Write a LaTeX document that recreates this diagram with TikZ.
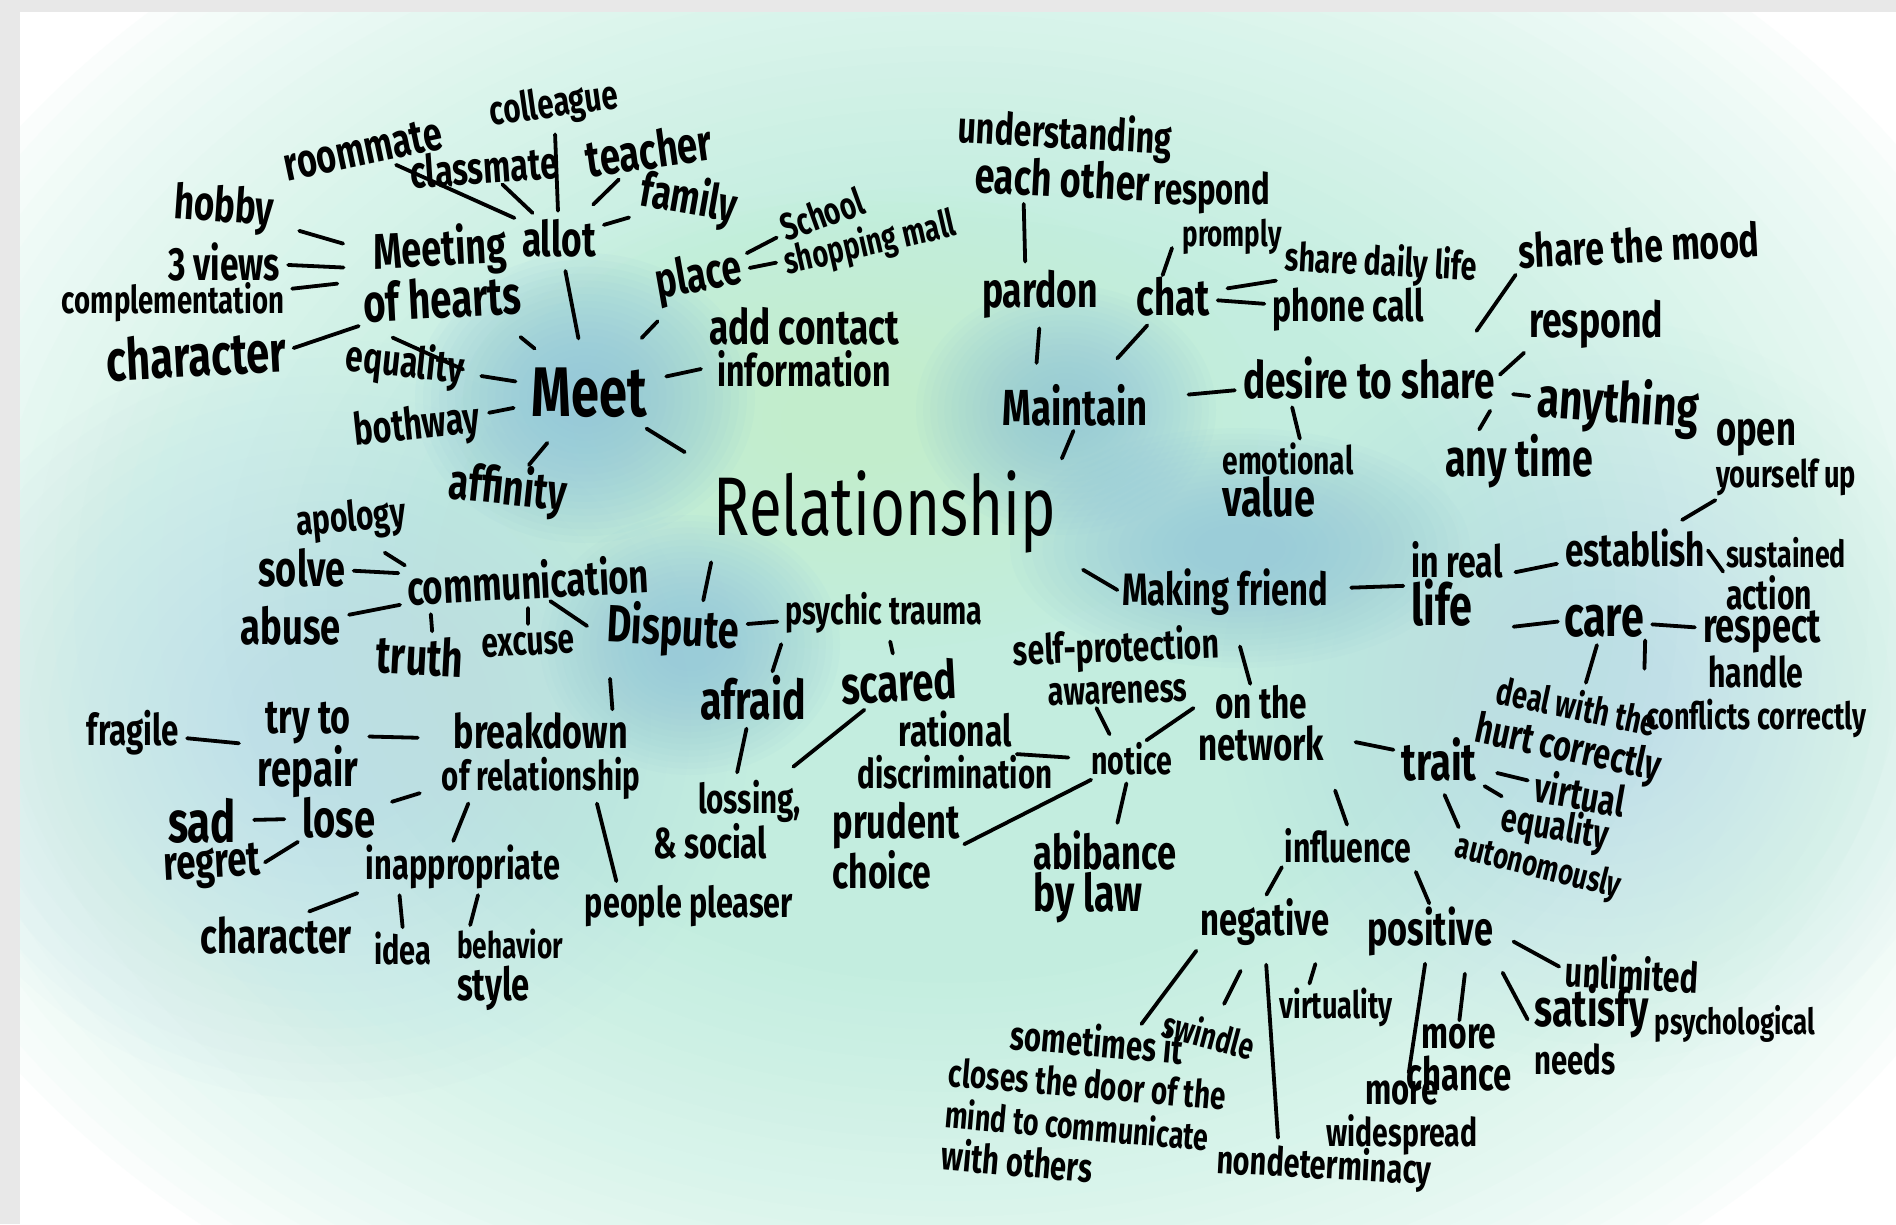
\documentclass[tikz,border=0pt]{standalone}
\usepackage{graphicx}
\usepackage{fontspec}
\setmainfont[FakeStretch=0.72]{Fira Sans}
\definecolor{framec}{HTML}{E8E8E8}
\definecolor{mintc}{HTML}{C3EDDF}
\definecolor{greenc}{HTML}{C2F5CC}
\definecolor{bluec}{HTML}{8EC3D8}
\definecolor{tealc}{HTML}{BCDFE8}
\newcommand{\fw}[2]{\resizebox{#1pt}{!}{#2}}
\newcommand{\myblob}[6]{%
  \foreach \i in {1,...,18}{%
    \pgfmathsetmacro\s{1-(\i-1)*0.85/18}%
    \fill[#1, fill opacity=#6] (#2,#3) ellipse ({#4*\s} and {#5*\s});
  }}
\tikzset{
  lb/.style={inner sep=1pt, align=center, text=black, font=\fontsize{36}{42}\selectfont\bfseries},
  c/.style={line width=3.8pt, line cap=round, black, shorten >=7pt, shorten <=7pt},
  sh/.style 2 args={shorten <=#1pt, shorten >=#2pt},
}
\begin{document}
\begin{tikzpicture}[x=1pt,y=-1pt]
\useasboundingbox (0,0) rectangle (1896,1224);
% background
\fill[framec] (0,0) rectangle (1896,1224);
\fill[white] (20,12) rectangle (1896,1224);
\begin{scope}
\clip (20,12) rectangle (1896,1224);
\foreach \i in {0,...,30}{
  \pgfmathsetmacro\s{1-\i*0.55/30}
  \pgfmathtruncatemacro\p{100*(\i/30)^0.7}
  \fill[mintc!\p!white] (950,600) ellipse ({1150*\s} and {850*\s});
}
\myblob{tealc}{330}{720}{420}{380}{0.05}
\myblob{tealc}{1600}{700}{380}{380}{0.04}
\myblob{greenc}{860}{420}{400}{230}{0.06}
\myblob{bluec}{585}{398}{170}{145}{0.07}
\myblob{bluec}{1066}{410}{150}{125}{0.06}
\myblob{bluec}{690}{645}{150}{130}{0.06}
\myblob{bluec}{1240}{548}{230}{120}{0.06}
\end{scope}

% ---------- nodes ----------
\node[lb] (rel) at (885,512) {\fw{342}{\mdseries Relationship}};
% Meet
\node[lb] (meet) at (589,393) {\fw{115}{Meet}};
\node[lb,rotate=3] (moh) at (441,272) {\fw{133}{Meeting}\\\fw{158}{of hearts}};
\node[lb] (allot) at (559,238) {\fw{74}{allot}};
\node[lb,rotate=12] (room) at (363,150) {\fw{160}{roommate}};
\node[lb,rotate=8] (coll) at (554,106) {\fw{129}{colleague}};
\node[lb,rotate=4] (class) at (484,167) {\fw{148}{classmate}};
\node[lb,rotate=8] (teach) at (649,150) {\fw{127}{teacher}};
\node[lb,rotate=-10] (fam) at (689,200) {\fw{97}{family}};
\node[lb,rotate=-4] (hobby) at (224,209) {\fw{100}{hobby}};
\node[lb] (views) at (224,262) {\fw{112}{3 views}};
\node[lb] (comp) at (173,302) {\fw{222}{complementation}};
\node[lb,rotate=3] (char) at (196,355) {\fw{180}{character}};
\node[lb,rotate=-6] (eq) at (405,364) {\fw{118}{equality}};
\node[lb,rotate=6] (both) at (417,427) {\fw{126}{bothway}};
\node[lb,rotate=-6] (aff) at (508,490) {\fw{118}{affinity}};
\node[lb,rotate=10] (place) at (699,278) {\fw{87}{place}};
\node[lb,rotate=20] (school) at (822,214) {\fw{85}{School}};
\node[lb,rotate=13] (shop) at (870,244) {\fw{175}{shopping mall}};
\node[lb] (add) at (804,347) {\fw{190}{add contact}\\\fw{173}{information}};
% Maintain
\node[lb,rotate=-3] (under) at (1064,155) {\fw{214}{understanding}\\\fw{175}{each other}};
\node[lb] (resp) at (1212,213) {\fw{117}{respond}\\\hspace*{40pt}\fw{99}{promply}};
\node[lb,rotate=-3] (daily) at (1381,264) {\fw{192}{share daily life}};
\node[lb] (pardon) at (1040,294) {\fw{116}{pardon}};
\node[lb] (chat) at (1173,297) {\fw{73}{chat}};
\node[lb] (phone) at (1348,310) {\fw{151}{phone call}};
\node[lb,rotate=3] (mood) at (1639,245) {\fw{241}{share the mood}};
\node[lb] (resp2) at (1596,324) {\fw{134}{respond}};
\node[lb] (maint) at (1075,405) {\fw{145}{Maintain}};
\node[lb] (desire) at (1369,378) {\fw{252}{desire to share}};
\node[lb,rotate=-4] (anyth) at (1618,406) {\fw{162}{anything}};
\node[lb,align=left] (emo) at (1288,480) {\fw{131}{emotional}\\\fw{93}{value}};
\node[lb] (anyt) at (1519,461) {\fw{148}{any time}};
\node[lb,align=left] (open) at (1786,458) {\fw{80}{open}\\\fw{140}{yourself up}};
% Making friend
\node[lb] (estab) at (1635,548) {\fw{140}{establish}};
\node[lb,align=left] (sust) at (1786,574) {\fw{120}{sustained}\\\fw{86}{action}};
\node[lb,align=left] (irl) at (1457,584) {\fw{91}{in real}\\\fw{61}{life}};
\node[lb] (mf) at (1225,592) {\fw{206}{Making friend}};
\node[lb] (care) at (1604,621) {\fw{80}{care}};
\node[lb] (respect) at (1762,632) {\fw{118}{respect}};
\node[lb] (handle) at (1756,697) {\fw{95}{handle}\\\fw{220}{conflicts correctly}};
\node[lb,rotate=-12] (deal) at (1572,730) {\fw{162}{deal with the}\\\fw{188}{hurt correctly}};
\node[lb,rotate=2] (self) at (1117,666) {\fw{206}{self-protection}\\\fw{139}{awareness}};
\node[lb] (notice) at (1132,759) {\fw{81}{notice}};
\node[lb] (net) at (1261,723) {\fw{92}{on the}\\\fw{126}{network}};
\node[lb] (rat) at (955,750) {\fw{113}{rational}\\\fw{195}{discrimination}};
\node[lb,align=left] (prud) at (896,846) {\fw{127}{prudent}\\\fw{99}{choice}};
\node[lb,align=left] (abib) at (1105,877) {\fw{143}{abibance}\\\fw{109}{by law}};
\node[lb] (trait) at (1439,759) {\fw{75}{trait}};
\node[lb,rotate=-10] (virt) at (1580,793) {\fw{91}{virtual}};
\node[lb,rotate=-10] (eq2) at (1555,828) {\fw{108}{equality}};
\node[lb,rotate=-14] (auto) at (1538,868) {\fw{169}{autonomously}};
\node[lb] (infl) at (1348,846) {\fw{127}{influence}};
\node[lb] (neg) at (1265,922) {\fw{129}{negative}};
\node[lb] (pos) at (1430,931) {\fw{126}{positive}};
\node[lb,rotate=-3] (unlim) at (1632,973) {\fw{133}{unlimited}};
\node[lb,align=left] (satis) at (1675,1030) {\fw{114}{satisfy} \raisebox{-8pt}{\fw{161}{psychological}}\\\fw{81}{needs}};
\node[lb] (virty) at (1336,1007) {\fw{113}{virtuality}};
\node[lb,rotate=-15] (swin) at (1209,1034) {\fw{93}{swindle}};
\node[lb] (chance) at (1459,1058) {\fw{75}{more}\\\fw{105}{chance}};
\node[lb] (wide) at (1402,1118) {\fw{73}{more}\\\fw{151}{widespread}};
\node[lb,rotate=-3] (nond) at (1324,1167) {\fw{215}{nondeterminacy}};
\node[lb,align=left,rotate=-5] (some) at (1086,1103) {\hspace*{58pt}\fw{173}{sometimes it}\\\fw{278}{closes the door of the}\\\fw{264}{mind to communicate}\\\fw{151}{with others}};
% Dispute
\node[lb,rotate=5] (apol) at (351,520) {\fw{110}{apology}};
\node[lb] (solve) at (302,568) {\fw{87}{solve}};
\node[lb,rotate=3] (comm) at (528,580) {\fw{242}{communication}};
\node[lb] (abuse) at (291,626) {\fw{100}{abuse}};
\node[lb,rotate=-3] (truth) at (420,656) {\fw{87}{truth}};
\node[lb,rotate=3] (excuse) at (528,644) {\fw{93}{excuse}};
\node[lb,rotate=-3] (disp) at (673,630) {\fw{132}{Dispute}};
\node[lb] (psy) at (884,613) {\fw{197}{psychic trauma}};
\node[lb] (afraid) at (753,698) {\fw{106}{afraid}};
\node[lb,rotate=3] (scared) at (899,682) {\fw{116}{scared}};
\node[lb] (fragile) at (133,733) {\fw{92}{fragile}};
\node[lb] (try) at (308,750) {\fw{85}{try to}\\\fw{100}{repair}};
\node[lb] (break) at (541,756) {\fw{174}{breakdown}\\\fw{198}{of relationship}};
\node[lb] (sad) at (202,821) {\fw{68}{sad}};
\node[lb] (lose) at (339,818) {\fw{73}{lose}};
\node[lb,rotate=3] (regret) at (212,867) {\fw{97}{regret}};
\node[lb] (inap) at (463,867) {\fw{194}{inappropriate}};
\node[lb] (pp) at (689,906) {\fw{208}{people pleaser}};
\node[lb] (char2) at (276,935) {\fw{151}{character}};
\node[lb] (idea) at (403,949) {\fw{57}{idea}};
\node[lb,align=left] (beh) at (510,970) {\fw{106}{behavior}\\\fw{73}{style}};
\node[lb,align=left] (loss) at (727,820) {\hspace*{45pt}\fw{103}{lossing,}\\\fw{114}{\& social}};

% ---------- connectors ----------
\draw[c,sh={18}{33}] (meet) -- (rel.north west);
\draw[c,sh={29}{31}] (meet) -- (moh);
\draw[c,sh={29}{13}] (meet) -- (allot);
\draw[c,sh={40}{17}] (meet) -- (place);
\draw[c,sh={19}{7}] (meet) -- (add);
\draw[c,sh={15}{17}] (meet) -- (eq);
\draw[c,sh={17}{9}] (meet) -- (both);
\draw[c,sh={31}{0}] (meet) -- (aff);
\draw[c] (allot) -- (room);
\draw[c,sh={7}{0}] (allot) -- (class);
\draw[c] (allot) -- (coll);
\draw[c,sh={19}{7}] (allot) -- (teach);
\draw[c] (allot) -- (fam);
\draw[c,sh={17}{26}] (moh) -- (hobby);
\draw[c,sh={17}{7}] (moh) -- (views);
\draw[c,sh={24}{7}] (moh) -- (comp);
\draw[c,sh={5}{7}] (moh.south west) -- (char.east);
\draw[c,sh={32}{2}] (moh.south west) -- (eq.east);
\draw[c] (place) -- (school);
\draw[c] (place) -- (shop);
\draw[c,sh={12}{4}] (rel.north east) -- (maint.south);
\draw[c,sh={9}{20}] (pardon.south) -- (maint.151);
\draw[c,sh={7}{7}] (pardon.120) -- (under.229);
\draw[c,sh={33}{10}] (maint) -- (chat);
\draw[c,sh={1}{-8}] (chat.117) -- (resp.225);
\draw[c,sh={17}{7}] (chat) -- (daily);
\draw[c] (chat) -- (phone);
\draw[c,sh={40}{7}] (maint) -- (desire);
\draw[c,sh={30}{5}] (desire.14) -- (mood.south west);
\draw[c,sh={5}{5}] (desire.east) -- (resp2.south west);
\draw[c,sh={17}{7}] (desire) -- (anyth);
\draw[c,sh={12}{4}] (desire.-10) -- (anyt.146);
\draw[c,sh={7}{3}] (desire.196) -- (emo.72);
\draw[c,sh={30}{4}] (rel.south east) -- (mf.west);
\draw[c,sh={22}{7}] (mf) -- (irl);
\draw[c,sh={12}{7}] (irl) -- (estab);
\draw[c,sh={15}{5}] (estab) -- (open);
\draw[c,sh={3}{3}] (estab.east) -- (sust.west);
\draw[c,sh={10}{5}] (irl.south east) -- (care.west);
\draw[c] (care) -- (respect);
\draw[c] (care) -- (deal);
\draw[c,sh={2}{-14}] (care.south east) -- (handle.north west);
\draw[c,sh={31}{0}] (mf) -- (net);
\draw[c,sh={2}{4}] (notice.54) -- (net.165);
\draw[c,sh={8}{2}] (notice.137) -- (self.240);
\draw[c,sh={22}{-37}] (notice.west) -- (rat);
\draw[c,sh={7}{4}] (notice) -- (prud.east);
\draw[c] (notice) -- (abib);
\draw[c,sh={31}{7}] (net) -- (trait);
\draw[c,sh={20}{7}] (trait) -- (virt);
\draw[c,sh={8}{3}] (trait) -- (eq2);
\draw[c,sh={14}{2}] (trait.south) -- (auto.north west);
\draw[c,sh={30}{3}] (net.south east) -- (infl.north);
\draw[c,sh={3}{3}] (infl.south west) -- (neg.north);
\draw[c,sh={8}{2}] (infl.south east) -- (pos.north);
\draw[c,sh={5}{3}] (neg.south west) -- (some.60);
\draw[c,sh={27}{17}] (neg) -- (swin);
\draw[c,sh={18}{5}] (neg.south) -- (nond.155);
\draw[c,sh={18}{3}] (neg.-24) -- (virty.143);
\draw[c] (pos) -- (wide);
\draw[c,sh={17}{3}] (pos.-35) -- (chance.north);
\draw[c,sh={18}{12}] (pos.south east) -- (satis.west);
\draw[c,sh={22}{6}] (pos.east) -- (unlim.west);
\draw[c,sh={8}{3}] (rel.south west) -- (disp.45);
\draw[c,sh={2}{22}] (comm.-47) -- (disp.190);
\draw[c,sh={23}{0}] (apol.-60) -- (comm.north west);
\draw[c] (comm) -- (solve);
\draw[c] (comm) -- (abuse);
\draw[c,sh={8}{4}] (comm.192) -- (truth.62);
\draw[c] (comm) -- (excuse);
\draw[c] (disp) -- (psy);
\draw[c,sh={24}{2}] (disp.204) -- (break.32);
\draw[c,sh={10}{3}] (psy.south west) -- (afraid.52);
\draw[c] (psy) -- (scared);
\draw[c] (afraid) -- (loss);
\draw[c,sh={7}{20}] (scared) -- (loss);
\draw[c,sh={10}{23}] (try.15) -- (break.170);
\draw[c,sh={18}{7}] (try) -- (fragile);
\draw[c,sh={22}{16}] (break) -- (lose);
\draw[c,sh={17}{17}] (lose) -- (sad);
\draw[c,sh={4}{4}] (lose.south west) -- (regret.east);
\draw[c,sh={3}{3}] (break.212) -- (inap.115);
\draw[c,sh={3}{3}] (break.-39) -- (pp.163);
\draw[c,sh={8}{10}] (inap.south west) -- (char2.40);
\draw[c,sh={5}{4}] (inap.200) -- (idea.north);
\draw[c,sh={5}{3}] (inap.-55) -- (beh.134);
\end{tikzpicture}
\end{document}
